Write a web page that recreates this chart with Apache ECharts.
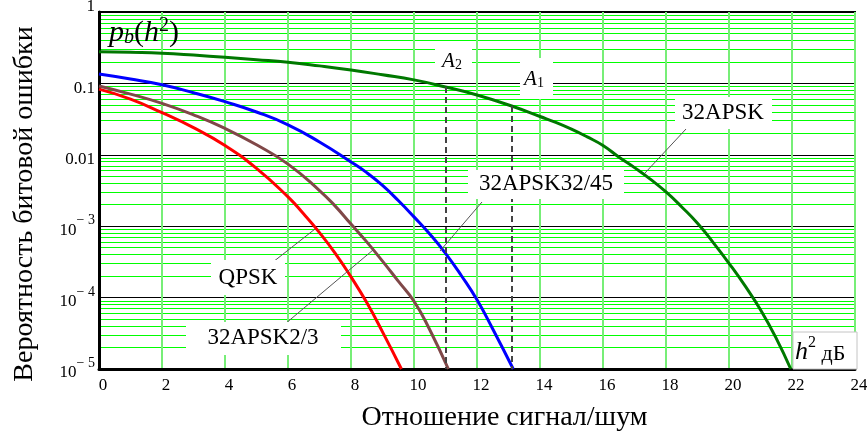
<!DOCTYPE html>
<html>
<head>
<meta charset="utf-8">
<script src="https://cdn.jsdelivr.net/npm/echarts@6/dist/echarts.min.js"></script>
<style>
  html, body { margin: 0; padding: 0; background: #fff; }
  #chart { width: 867px; height: 432px; }
</style>
</head>
<body>
<div id="chart"></div>
<script>
// Bit error probability vs. signal-to-noise ratio h^2 (dB)
const xQPSK = [0, 1, 2, 3, 4, 5, 6, 6.5, 7, 7.5, 8, 8.5, 9, 9.6];
const pQPSK = [0.0832, 0.0603, 0.0389, 0.024, 0.0135, 0.00646, 0.00257, 0.00148, 8.13e-4, 4.17e-4, 1.95e-4, 8.51e-5, 3.31e-5, 1e-5];

const xAPSK23 = [0, 1, 2, 3, 4, 5, 6, 7, 7.5, 8, 8.5, 9, 9.5, 10, 10.5, 11.09];
const pAPSK23 = [0.092, 0.0708, 0.0525, 0.0363, 0.0234, 0.0138, 0.00741, 0.00316, 0.00191, 0.00107, 6.03e-4, 3.24e-4, 1.70e-4, 8.9e-5, 3.55e-5, 1e-5];

const xAPSK3245 = [0, 1, 2, 3, 4, 5, 6, 7, 8, 8.5, 9, 9.5, 10, 10.5, 11, 11.5, 12, 12.5, 13.15];
const pAPSK3245 = [0.135, 0.115, 0.0955, 0.0741, 0.0555, 0.0398, 0.0263, 0.0151, 0.00794, 0.00562, 0.00372, 0.00229, 0.00135, 7.76e-4, 4.17e-4, 2.04e-4, 9.3e-5, 3.63e-5, 1e-5];

const xAPSK = [0, 1, 2, 3, 4, 5, 6, 7, 8, 9, 10, 11, 12, 13.1, 14, 14.5, 15, 15.5, 16, 16.5, 17, 17.5, 18, 18.5, 19, 19.5, 20, 20.5, 21, 21.5, 21.96];
const pAPSK = [0.278, 0.272, 0.264, 0.249, 0.232, 0.215, 0.198, 0.176, 0.154, 0.132, 0.112, 0.0891, 0.0689, 0.0482, 0.0344, 0.0285, 0.0229, 0.0178, 0.0135, 0.00933, 0.00661, 0.00457, 0.00302, 0.00186, 0.0011, 5.89e-4, 3.02e-4, 1.48e-4, 6.76e-5, 2.69e-5, 1e-5];

// Reference points A2 and A1 on the 32APSK curve (indices into xAPSK / pAPSK)
const idxA2 = 11;
const idxA1 = 13;

const xMin = 0, xMax = 24, xStep = 2;
const yMin = 1e-5, yMax = 1;

const SERIF = '"Liberation Serif", "Times New Roman", serif';

const zip = (xs, ys) => xs.map((x, i) => [x, ys[i]]);

// 1, 0.1, 0.01, then powers of ten written as 10 with a raised exponent
function yLabel(v) {
  const e = Math.round(Math.log10(v));
  if (e === 0) return '{one|1}';
  if (e >= -2) return '{p|' + v.toFixed(-e) + '}';
  return '{z|\u200a}{b|10}{s|− ' + (-e) + '}';
}

const chart = echarts.init(document.getElementById('chart'), null, { renderer: 'canvas' });

function curve(name, xs, ys, color, extra) {
  return Object.assign({
    type: 'line',
    name: name,
    data: zip(xs, ys),
    smooth: 0.5,
    symbol: 'none',
    lineStyle: { color: color, width: 3 },
    silent: true,
    z: 3
  }, extra || {});
}

const dashStyle = { color: '#444', width: 2, type: [6, 4] };

function box(x, y, w, h, stroke) {
  return {
    type: 'rect', z: 20, silent: true,
    shape: { x: x, y: y, width: w, height: h },
    style: { fill: '#fff', stroke: stroke || null, lineWidth: stroke ? 1 : 0 }
  };
}

function leader(x1, y1, x2, y2) {
  return {
    type: 'line', z: 19, silent: true,
    shape: { x1: x1, y1: y1, x2: x2, y2: y2 },
    style: { stroke: '#555', lineWidth: 1 }
  };
}

function label(x, y, text, rich, align, vAlign) {
  return {
    type: 'text', z: 21, silent: true, x: x, y: y,
    style: {
      text: text, rich: rich || {},
      font: '23px ' + SERIF, fontSize: 23, fontFamily: SERIF, fill: '#000',
      align: align || 'center', textAlign: align || 'center',
      verticalAlign: vAlign || 'middle', textVerticalAlign: vAlign || 'middle'
    }
  };
}

function buildAnnotations() {
  const italic = (size, lh) => ({ fontSize: size, fontFamily: SERIF, fontStyle: 'italic', fill: '#000', lineHeight: lh, verticalAlign: 'bottom' });
  const plain = (size, lh, va) => ({ fontSize: size, fontFamily: SERIF, fill: '#000', lineHeight: lh, verticalAlign: va || 'bottom' });
  const pointRich = {
    i: italic(21, 24),
    s: { fontSize: 14, fontFamily: SERIF, fill: '#000', lineHeight: 14, verticalAlign: 'bottom' }
  };
  return [
    // function label p_b(h^2)
    label(109, 16, '{i|p}{sub|b}{n|(}{i|h}{sup|2}{n|)}', {
      i: italic(30, 32),
      n: plain(30, 32),
      sub: { fontSize: 20, fontFamily: SERIF, fontStyle: 'italic', fill: '#000', lineHeight: 16, verticalAlign: 'bottom' },
      sup: plain(20, 24, 'top')
    }, 'left', 'top'),

    // points A2, A1
    box(435, 47, 37, 25),
    label(452, 60, '{i|A}{s|2}', pointRich),
    box(520, 58, 33, 41),
    label(534, 78, '{i|A}{s|1}', pointRich),

    // curve captions with leader lines
    leader(686, 129, 645, 173),
    box(675, 97, 97, 32),
    label(723, 113, '32APSK'),

    leader(482, 202, 440, 251),
    box(468, 170, 156, 29),
    label(546, 184, '32APSK32/45'),

    leader(273, 262, 315, 229),
    box(211, 260, 74, 35),
    label(248, 278, 'QPSK'),

    leader(285, 324, 373, 250),
    box(186, 322, 155, 33),
    label(263, 338, '32APSK2/3'),

    // axis unit caption
    box(793, 332, 64, 37, '#c4c4c4'),
    label(795, 350, '{i|h}{sup|2}{n| дБ}', {
      i: italic(26, 30),
      sup: plain(16, 16, 'top'),
      n: plain(22, 30)
    }, 'left', 'middle')
  ];
}

const option = {
  animation: false,
  backgroundColor: '#fff',
  grid: {
    left: 99, right: 12, top: 12, bottom: 63,
    show: true, borderColor: '#000', borderWidth: 2,
    outerBoundsMode: 'none'
  },
  xAxis: {
    type: 'value', min: xMin, max: xMax, interval: xStep,
    axisLine: { show: true, onZero: false, lineStyle: { color: '#000', width: 3 } },
    axisTick: { show: false },
    axisLabel: { color: '#000', fontSize: 17, fontFamily: SERIF, margin: 8, padding: [0, 0, 0, 8] },
    splitLine: { show: true, lineStyle: { color: '#77ee77', width: 2 } },
    name: 'Отношение сигнал/шум', nameLocation: 'middle', nameGap: 35,
    nameTextStyle: { color: '#000', fontSize: 28, fontFamily: SERIF, padding: [0, 0, 0, 55] }
  },
  yAxis: {
    type: 'log', logBase: 10, min: yMin, max: yMax,
    axisLine: { show: true, lineStyle: { color: '#000', width: 3 } },
    axisTick: { show: false },
    axisLabel: {
      color: '#000', fontSize: 17, fontFamily: SERIF, margin: 4,
      formatter: yLabel,
      rich: {
        one: { fontSize: 17, fontFamily: SERIF, color: '#000', padding: [0, 0, 10, 0] },
        p: { fontSize: 17, fontFamily: SERIF, color: '#000', padding: [10, 0, 0, 0] },
        z: { fontSize: 1, fontFamily: SERIF, color: '#000', lineHeight: 25, verticalAlign: 'bottom' },
        b: { fontSize: 17, fontFamily: SERIF, color: '#000', lineHeight: 16, verticalAlign: 'bottom' },
        s: { fontSize: 14, fontFamily: SERIF, color: '#000', lineHeight: 10, verticalAlign: 'top' }
      }
    },
    splitLine: { show: true, lineStyle: { color: '#000', width: 1 } },
    minorTick: { show: false, splitNumber: 9 },
    minorSplitLine: { show: true, lineStyle: { color: '#00ff00', width: 1 } },
    name: 'Вероятность битовой ошибки', nameLocation: 'middle', nameGap: 60, nameRotate: 90,
    nameTextStyle: { color: '#000', fontSize: 28, fontFamily: SERIF, padding: [0, 27, 0, 0] }
  },
  series: [
    curve('QPSK', xQPSK, pQPSK, '#ff0000'),
    curve('32APSK2/3', xAPSK23, pAPSK23, '#804848'),
    curve('32APSK32/45', xAPSK3245, pAPSK3245, '#0000ff'),
    curve('32APSK', xAPSK, pAPSK, '#007800', {
      markLine: {
        silent: true, symbol: 'none', label: { show: false },
        lineStyle: dashStyle,
        data: [
          [{ coord: [xAPSK[idxA2], pAPSK[idxA2]] }, { coord: [xAPSK[idxA2], yMin] }],
          [{ coord: [xAPSK[idxA1], pAPSK[idxA1]] }, { coord: [xAPSK[idxA1], yMin] }]
        ]
      }
    })
  ],
  graphic: buildAnnotations()
};

chart.setOption(option);
</script>
</body>
</html>
